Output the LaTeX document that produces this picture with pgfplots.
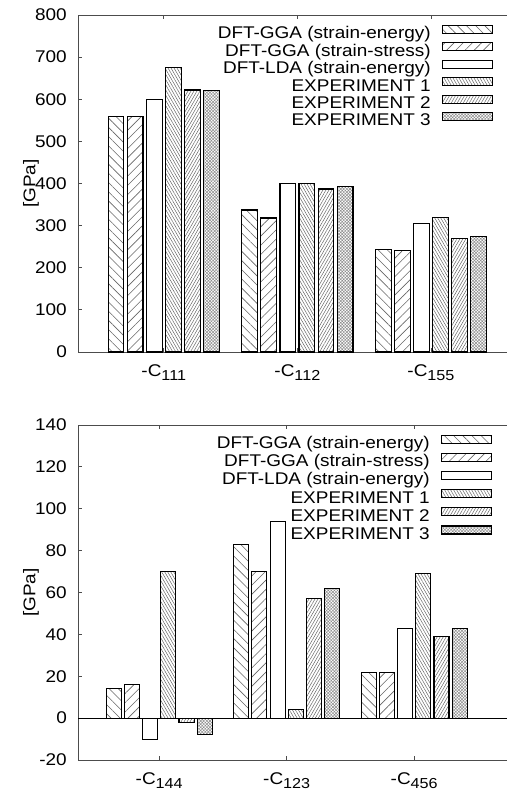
\documentclass[border=0pt]{standalone}
\usepackage{fontspec}
\setmainfont{Liberation Sans}[FakeStretch=1.12]
\usepackage{pgfplots}
\usepackage{pgfplotstable}
\pgfplotsset{compat=1.18}
\usetikzlibrary{patterns.meta}

\newcommand\sub[1]{\raisebox{-3.5bp}{\fontsize{14.5}{14.5}\selectfont #1}}

\pgfplotstableread{
x ggae ggas lda ea eb ec
0 560 560 600 675 622 620
1 337 318 400 400 387 392
2 244 242 304 320 269 274
}\topdata

\pgfplotstableread{
x ggae ggas lda ea eb ec
0 14 16 -10 70 -2 -8
1 83 70 94 4 57 62
2 22 22 43 69 39 43
}\botdata

\pgfplotsset{
  barbase/.style={ybar, bar width=0.118, bar shift=0pt, draw=black, line width=1.1bp},
  s1/.style={barbase, pattern={Lines[angle=-45,distance=6.5bp,line width=0.6bp]}, pattern color=black!60},
  s2/.style={barbase, pattern={Lines[angle=45,distance=6.5bp,line width=0.6bp]}, pattern color=black!60},
  s3/.style={barbase, fill=white},
  s4/.style={barbase, pattern={Lines[angle=-60,distance=2.6bp,line width=0.5bp]}, pattern color=black!60},
  s5/.style={barbase, pattern={Lines[angle=60,distance=2.6bp,line width=0.5bp]}, pattern color=black!60},
  s6/.style={barbase, pattern={Hatch[angle=45,distance=2.2bp,line width=0.5bp]}, pattern color=black!45},
  common/.style={
    scale only axis,
    width=429bp,
    axis x line=box,
    axis y line=left,
    axis line style={-, draw=black!70, line width=0.8bp},
    every outer x axis line/.append style={-},
    every outer y axis line/.append style={-},
    every inner x axis line/.append style={-},
    every inner y axis line/.append style={-},
    tick align=inside,
    major tick length=4bp,
    tick style={draw=black!70, line width=0.8bp},
    xtick={0,1,2},
    /pgf/number format/assume math mode=true,
    yticklabel style={inner sep=0pt, xshift=-11bp, anchor=east},
    xticklabel style={inner sep=0pt, yshift=-12.5bp, anchor=north},
    ylabel={[GPa]},
    ylabel style={at={(axis description cs:-0.1096,0.5)}, anchor=center, rotate=0},
    legend plot pos=right,
    legend cell align=right,
    legend image code/.code={\draw[##1] (0bp,1bp) rectangle (50bp,9bp);},
  },
}

\begin{document}
\fontsize{17}{20}\selectfont
\begin{tikzpicture}[font=\fontsize{17}{20}\selectfont]
\begin{axis}[
  common,
  at={(78bp,-352bp)}, anchor=south west,
  height=337bp,
  xmin=-0.642, xmax=2.569,
  ymin=0, ymax=800,
  ytick={0,100,...,800},
  xticklabels={-C\sub{111},-C\sub{112},-C\sub{155}},
  legend style={draw=none, fill=none, at={(1,1)}, anchor=north east,
    xshift=-11bp, yshift=-7.5bp, row sep=-0.2bp, column sep=11bp,
    nodes={inner sep=0pt, text height=12.5bp, text depth=3.7bp}},
]
\addplot[s1] table[x expr=\thisrow{x}-0.3571, y=ggae] {\topdata};
\addlegendentry{DFT-GGA (strain-energy)}
\addplot[s2] table[x expr=\thisrow{x}-0.2143, y=ggas] {\topdata};
\addlegendentry{DFT-GGA (strain-stress)}
\addplot[s3] table[x expr=\thisrow{x}-0.0714, y=lda] {\topdata};
\addlegendentry{DFT-LDA (strain-energy)}
\addplot[s4] table[x expr=\thisrow{x}+0.0714, y=ea] {\topdata};
\addlegendentry{EXPERIMENT 1}
\addplot[s5] table[x expr=\thisrow{x}+0.2143, y=eb] {\topdata};
\addlegendentry{EXPERIMENT 2}
\addplot[s6] table[x expr=\thisrow{x}+0.3571, y=ec] {\topdata};
\addlegendentry{EXPERIMENT 3}
\end{axis}

\begin{axis}[
  common,
  at={(78bp,-760bp)}, anchor=south west,
  height=335bp,
  xmin=-0.637, xmax=2.728,
  ymin=-20, ymax=140,
  ytick={-20,0,...,140},
  xticklabels={-C\sub{144},-C\sub{123},-C\sub{456}},
  extra y ticks={0},
  extra y tick labels={},
  extra y tick style={grid=major, major grid style={draw=black, line width=0.8bp}, major tick length=0pt},
  legend style={draw=none, fill=none, at={(1,1)}, anchor=north east,
    xshift=-12bp, yshift=-7.5bp, row sep=0.5bp, column sep=11bp,
    nodes={inner sep=0pt, text height=12.5bp, text depth=3.7bp}},
]
\addplot[s1] table[x expr=\thisrow{x}-0.3571, y=ggae] {\botdata};
\addlegendentry{DFT-GGA (strain-energy)}
\addplot[s2] table[x expr=\thisrow{x}-0.2143, y=ggas] {\botdata};
\addlegendentry{DFT-GGA (strain-stress)}
\addplot[s3] table[x expr=\thisrow{x}-0.0714, y=lda] {\botdata};
\addlegendentry{DFT-LDA (strain-energy)}
\addplot[s4] table[x expr=\thisrow{x}+0.0714, y=ea] {\botdata};
\addlegendentry{EXPERIMENT 1}
\addplot[s5] table[x expr=\thisrow{x}+0.2143, y=eb] {\botdata};
\addlegendentry{EXPERIMENT 2}
\addplot[s6] table[x expr=\thisrow{x}+0.3571, y=ec] {\botdata};
\addlegendentry{EXPERIMENT 3}
\end{axis}
\pgfresetboundingbox
\path[use as bounding box] (0,0) rectangle (507bp,-791bp);
\end{tikzpicture}
\end{document}
